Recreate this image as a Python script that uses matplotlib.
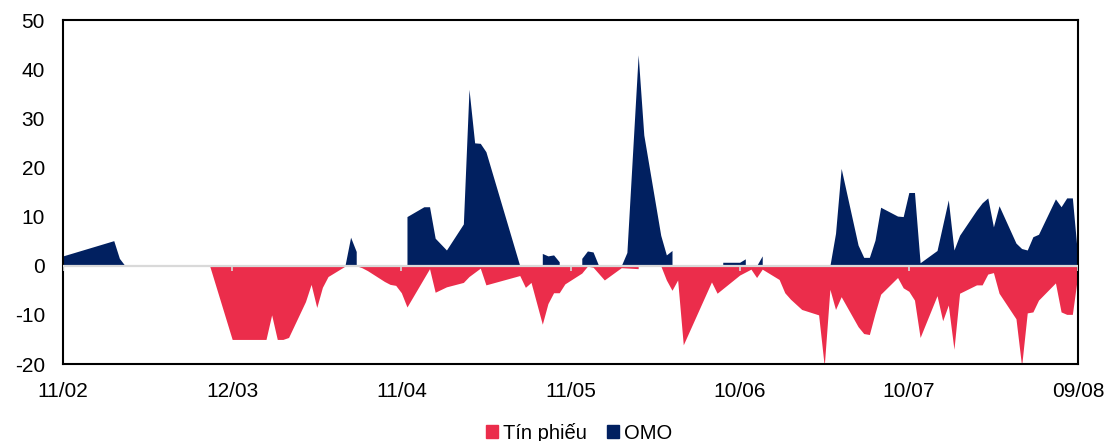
import numpy as np
import pandas as pd
import matplotlib
matplotlib.use("Agg")
import matplotlib.pyplot as plt
import matplotlib.dates as mdates
from matplotlib.patches import Patch

plt.rcParams['font.family'] = ['Liberation Sans', 'DejaVu Sans']
plt.rcParams['axes.unicode_minus'] = False

# OMO (net injection, positive)
omo_dates = ["2024-02-11", "2024-02-20", "2024-02-21", "2024-02-22",
             "2024-04-01", "2024-04-02", "2024-04-03", "2024-04-03",
             "2024-04-12", "2024-04-12", "2024-04-15", "2024-04-16", "2024-04-17",
             "2024-04-19", "2024-04-22", "2024-04-23", "2024-04-24", "2024-04-25",
             "2024-04-26", "2024-05-02", "2024-05-06", "2024-05-06", "2024-05-07",
             "2024-05-08", "2024-05-09", "2024-05-09", "2024-05-13", "2024-05-13",
             "2024-05-14", "2024-05-15", "2024-05-16", "2024-05-20", "2024-05-21",
             "2024-05-23", "2024-05-24", "2024-05-27", "2024-05-28", "2024-05-29",
             "2024-05-29", "2024-06-07", "2024-06-07", "2024-06-10", "2024-06-11",
             "2024-06-11", "2024-06-13", "2024-06-14", "2024-06-14", "2024-06-26",
             "2024-06-27", "2024-06-28", "2024-07-01", "2024-07-02", "2024-07-03",
             "2024-07-04", "2024-07-05", "2024-07-08", "2024-07-09", "2024-07-10",
             "2024-07-11", "2024-07-12", "2024-07-15", "2024-07-17", "2024-07-18",
             "2024-07-19", "2024-07-22", "2024-07-23", "2024-07-24", "2024-07-25",
             "2024-07-26", "2024-07-29", "2024-07-30", "2024-07-31", "2024-08-01",
             "2024-08-02", "2024-08-05", "2024-08-06", "2024-08-07", "2024-08-08",
             "2024-08-09"]
omo_values = [2.0, 5.1, 1.5, 0,
              0, 5.8, 2.9, 0,
              0, 10.0, 12.0, 12.0, 5.6,
              3.2, 8.5, 35.9, 25.0, 24.9,
              23.2, 0, 0, 2.5, 2.0,
              2.2, 0.8, 0, 0, 1.5,
              3.0, 2.8, 0, 0, 2.7,
              42.9, 26.6, 6.2, 2.2, 3.1,
              0, 0, 0.7, 0.7, 1.4,
              0, 0, 2.0, 0, 0,
              6.6, 19.8, 4.2, 1.7, 1.7,
              5.2, 11.9, 10.1, 10.0, 14.9,
              14.9, 0.6, 3.1, 13.4, 3.2,
              6.2, 11.3, 12.8, 13.8, 7.9,
              12.2, 4.6, 3.5, 3.2, 5.9,
              6.4, 13.6, 12.0, 13.8, 13.8,
              1.2]

# Tin phieu (bills, withdrawal, negative)
tp_dates = ["2024-02-11", "2024-03-08", "2024-03-12", "2024-03-18", "2024-03-19",
            "2024-03-20", "2024-03-21", "2024-03-22", "2024-03-25", "2024-03-26",
            "2024-03-27", "2024-03-28", "2024-03-29", "2024-04-01", "2024-04-03",
            "2024-04-04", "2024-04-05", "2024-04-08", "2024-04-09", "2024-04-10",
            "2024-04-11", "2024-04-12", "2024-04-16", "2024-04-17", "2024-04-19",
            "2024-04-22", "2024-04-23", "2024-04-25", "2024-04-26", "2024-05-02",
            "2024-05-03", "2024-05-04", "2024-05-06", "2024-05-07", "2024-05-08",
            "2024-05-09", "2024-05-10", "2024-05-13", "2024-05-14", "2024-05-15",
            "2024-05-17", "2024-05-20", "2024-05-23", "2024-05-23", "2024-05-27",
            "2024-05-28", "2024-05-29", "2024-05-30", "2024-05-31", "2024-06-05",
            "2024-06-06", "2024-06-10", "2024-06-12", "2024-06-13", "2024-06-14",
            "2024-06-17", "2024-06-18", "2024-06-19", "2024-06-21", "2024-06-24",
            "2024-06-25", "2024-06-26", "2024-06-27", "2024-06-28", "2024-07-01",
            "2024-07-02", "2024-07-03", "2024-07-04", "2024-07-05", "2024-07-08",
            "2024-07-09", "2024-07-10", "2024-07-11", "2024-07-12", "2024-07-15",
            "2024-07-16", "2024-07-17", "2024-07-18", "2024-07-19", "2024-07-22",
            "2024-07-23", "2024-07-24", "2024-07-25", "2024-07-26", "2024-07-29",
            "2024-07-30", "2024-07-31", "2024-08-01", "2024-08-02", "2024-08-05",
            "2024-08-06", "2024-08-07", "2024-08-08", "2024-08-09"]
tp_values = [0, 0, -15.0, -15.0, -10.0,
             -15.0, -15.0, -14.6, -7.3, -3.8,
             -8.5, -4.4, -2.2, -0.1, 0,
             -0.4, -1.0, -3.2, -3.8, -4.0,
             -5.5, -8.4, -0.6, -5.4, -4.3,
             -3.4, -2.2, -0.5, -3.9, -2.0,
             -4.4, -3.4, -11.9, -7.7, -5.5,
             -5.5, -3.7, -1.5, -0.1, -0.3,
             -2.9, -0.4, -0.6, 0, 0,
             -2.9, -5.0, -2.9, -16.1, -3.3,
             -5.6, -1.9, -0.7, -2.4, -0.7,
             -2.8, -5.5, -6.8, -8.9, -10.0,
             -20.4, -4.8, -8.9, -6.3, -12.4,
             -13.8, -14.0, -9.7, -5.8, -2.4,
             -4.5, -5.2, -7.0, -14.6, -6.1,
             -11.2, -8.0, -17.0, -5.6, -3.9,
             -3.9, -1.7, -1.4, -5.6, -10.8,
             -20.4, -9.6, -9.4, -7.0, -3.5,
             -9.4, -9.9, -9.9, -1.5]

red = '#EB2D4B'
navy = '#012060'

fig = plt.figure(figsize=(11.05, 4.41), dpi=100)
ax = fig.add_axes([63/1105, 1 - 364/441, (1078 - 63)/1105, (364 - 20)/441])

ax.fill_between(pd.to_datetime(tp_dates), tp_values, 0, color=red, lw=0, zorder=2)
ax.fill_between(pd.to_datetime(omo_dates), omo_values, 0, color=navy, lw=0, zorder=2)

start = pd.Timestamp("2024-02-11")
end = pd.Timestamp("2024-08-09")
tick_dates = pd.date_range(start, end, freq='30D')

ax.axhline(0, color='#D9D9D9', lw=1.6, zorder=3)
ax.vlines(tick_dates, -1.1, 0, color='#D9D9D9', lw=1.2, zorder=3)

ax.set_xlim(start, end)
ax.set_ylim(-20, 50)
ax.set_yticks(np.arange(-20, 51, 10))
ax.set_xticks(tick_dates)
ax.xaxis.set_major_formatter(mdates.DateFormatter('%d/%m'))
ax.tick_params(axis='both', length=0, labelsize=15)
ax.tick_params(axis='y', pad=13)
ax.tick_params(axis='x', pad=13)

for s in ax.spines.values():
    s.set_color('black')
    s.set_linewidth(1.5)

handles = [Patch(color=red, label='Tín phiếu'), Patch(color=navy, label='OMO')]
fig.legend(handles=handles, loc='lower center', bbox_to_anchor=(0.524, -0.045), ncol=2,
           frameon=False, fontsize=14.5, handlelength=0.6, handleheight=0.6,
           handletextpad=0.25, columnspacing=1.0)

fig.savefig('out.png', dpi=100)
